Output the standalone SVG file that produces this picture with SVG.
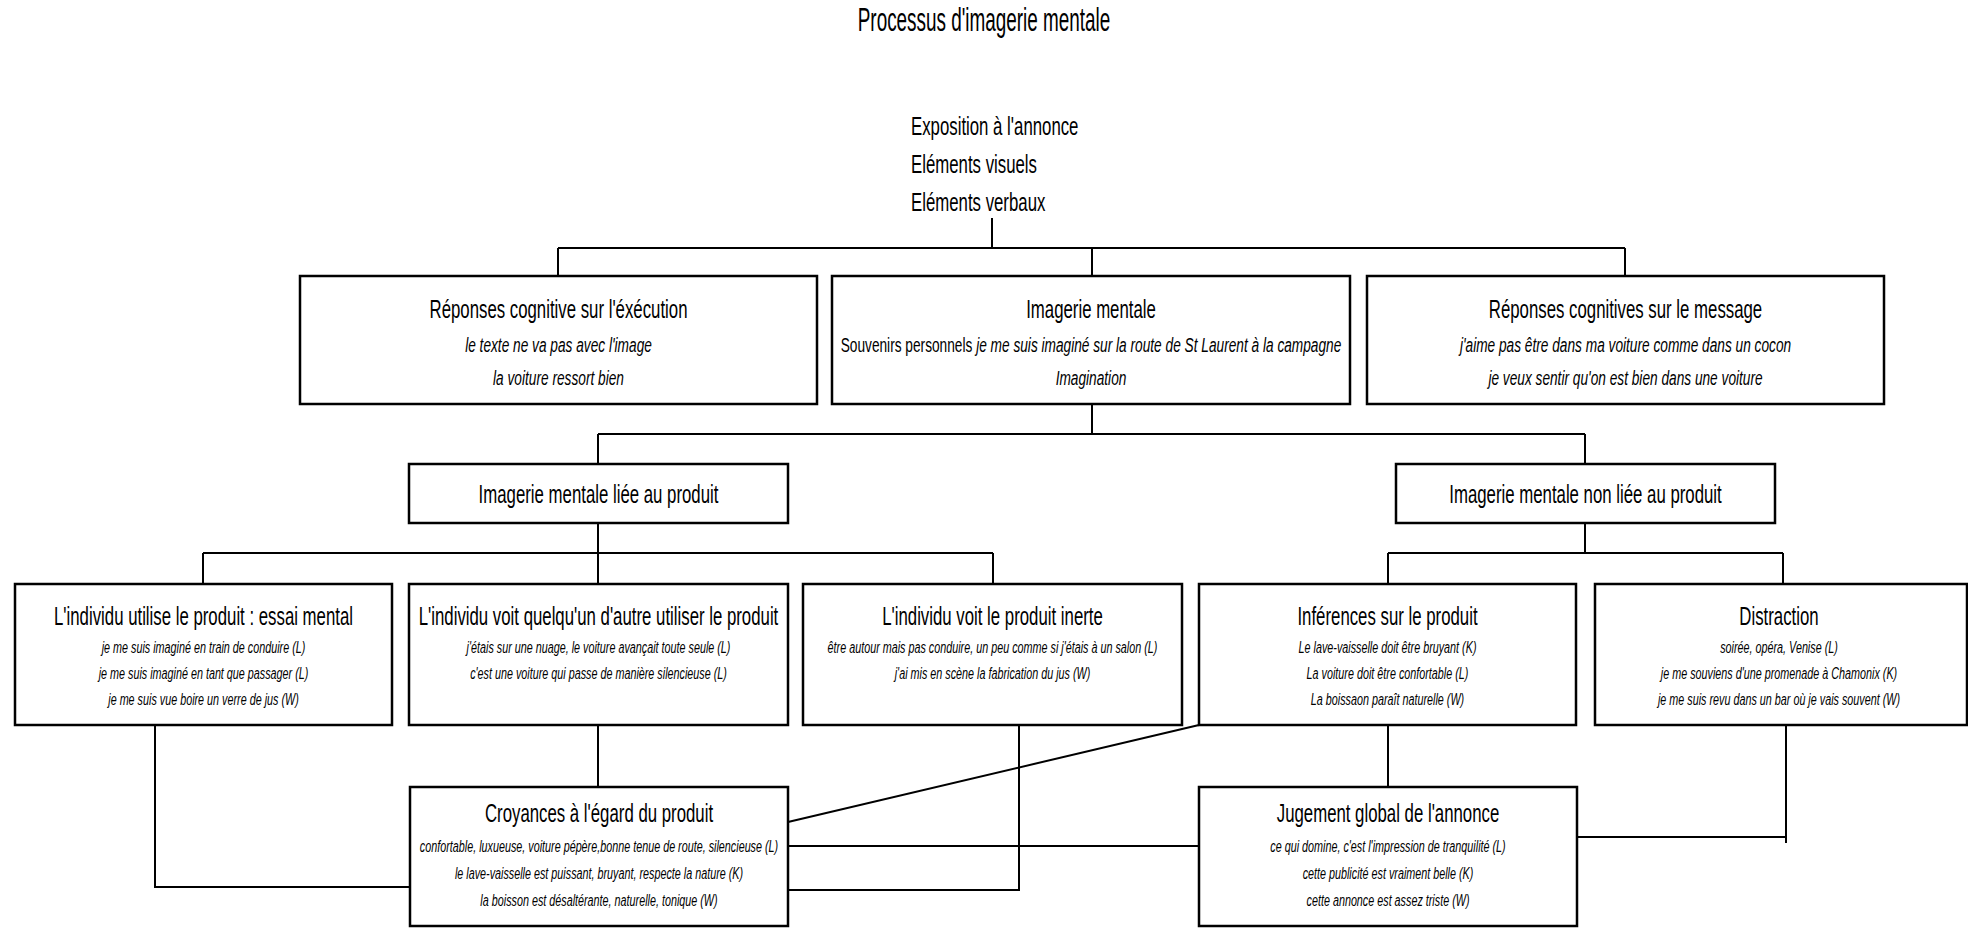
<svg xmlns="http://www.w3.org/2000/svg" width="1968" height="928" viewBox="0 0 1968 928">
<style>
text{font-family:"Liberation Sans",Arial,sans-serif;fill:#000}
.ttl{font-size:33px;text-anchor:middle;transform:scale(0.573,1)}
.top{font-size:26px;text-anchor:start;transform:scale(0.646,1)}
.h{font-size:26px;text-anchor:middle;transform:scale(0.646,1)}
.i1{font-size:21px;font-style:italic;text-anchor:middle;transform:scale(0.652,1)}
.i2{font-size:17px;font-style:italic;text-anchor:middle;transform:scale(0.635,1)}
.r{font-style:normal}
rect{fill:#fff;stroke:#000;stroke-width:2.5}
#connectors path{fill:none;stroke:#000;stroke-width:2}
</style>
<rect x="0" y="0" width="1968" height="928" style="stroke:none"/>
<g id="title" transform="translate(984,0)"><text class="ttl" x="0" y="31">Processus d'imagerie mentale</text></g>
<g id="exposition" transform="translate(911,0)">
<text class="top" x="0" y="135">Exposition à l'annonce</text>
<text class="top" x="0" y="173">Eléments visuels</text>
<text class="top" x="0" y="211">Eléments verbaux</text>
</g>
<g id="connectors">
<path d="M992,218V248M558,248H1625M558,248V276M1092,248V276M1625,248V276"/>
<path d="M1092,404V434M598,434H1585M598,434V464M1585,434V464"/>
<path d="M598,523V553M203,553H993M203,553V584M598,553V584M993,553V584"/>
<path d="M1585,523V553M1388,553H1783M1388,553V584M1783,553V584"/>
<path d="M155,725V887H410"/>
<path d="M598,725V787"/>
<path d="M1019,725V890H788"/>
<path d="M788,846H1199"/>
<path d="M1199,725L788,822"/>
<path d="M1388,725V787"/>
<path d="M1786,725V843M1577,837H1786"/>
</g>
<g id="rep-execution">
<rect x="300" y="276" width="517" height="128"/>
<g transform="translate(558.5,0)">
<text class="h" x="0" y="318">Réponses cognitive sur l'éxécution</text>
<text class="i1" x="0" y="352">le texte ne va pas avec l'image</text>
<text class="i1" x="0" y="385">la voiture ressort bien</text>
</g></g>
<g id="imagerie-mentale">
<rect x="832" y="276" width="518" height="128"/>
<g transform="translate(1091,0)">
<text class="h" x="0" y="318">Imagerie mentale</text>
<text class="i1" x="0" y="352"><tspan class="r">Souvenirs personnels </tspan> je me suis imaginé sur la route de St Laurent à la campagne</text>
<text class="i1" x="0" y="385">Imagination</text>
</g></g>
<g id="rep-message">
<rect x="1367" y="276" width="517" height="128"/>
<g transform="translate(1625.5,0)">
<text class="h" x="0" y="318">Réponses cognitives sur le message</text>
<text class="i1" x="0" y="352">j'aime pas être dans ma voiture comme dans un cocon</text>
<text class="i1" x="0" y="385">je veux sentir qu'on est bien dans une voiture</text>
</g></g>
<g id="liee-produit">
<rect x="409" y="464" width="379" height="59"/>
<g transform="translate(598.5,0)"><text class="h" x="0" y="503">Imagerie mentale liée au produit</text></g>
</g>
<g id="non-liee-produit">
<rect x="1396" y="464" width="379" height="59"/>
<g transform="translate(1585.5,0)"><text class="h" x="0" y="503">Imagerie mentale non liée au produit</text></g>
</g>
<g id="essai-mental">
<rect x="15" y="584" width="377" height="141"/>
<g transform="translate(203.5,0)">
<text class="h" x="0" y="625">L'individu utilise le produit : essai mental</text>
<text class="i2" x="0" y="653">je me suis imaginé en train de conduire (L)</text>
<text class="i2" x="0" y="679">je me suis imaginé en tant que passager (L)</text>
<text class="i2" x="0" y="705">je me suis vue boire un verre de jus (W)</text>
</g></g>
<g id="autre-utiliser">
<rect x="409" y="584" width="379" height="141"/>
<g transform="translate(598.5,0)">
<text class="h" x="0" y="625">L'individu voit quelqu'un d'autre utiliser le produit</text>
<text class="i2" x="0" y="653">j'étais sur une nuage, le voiture avançait toute seule (L)</text>
<text class="i2" x="0" y="679">c'est une voiture qui passe de manière silencieuse (L)</text>
</g></g>
<g id="produit-inerte">
<rect x="803" y="584" width="379" height="141"/>
<g transform="translate(992.5,0)">
<text class="h" x="0" y="625">L'individu voit le produit inerte</text>
<text class="i2" x="0" y="653">être autour mais pas conduire, un peu comme si j'étais à un salon (L)</text>
<text class="i2" x="0" y="679">j'ai mis en scène la fabrication du jus (W)</text>
</g></g>
<g id="inferences">
<rect x="1199" y="584" width="377" height="141"/>
<g transform="translate(1387.5,0)">
<text class="h" x="0" y="625">Inférences sur le produit</text>
<text class="i2" x="0" y="653">Le lave-vaisselle doit être bruyant (K)</text>
<text class="i2" x="0" y="679">La voiture doit être confortable (L)</text>
<text class="i2" x="0" y="705">La boissaon paraît naturelle (W)</text>
</g></g>
<g id="distraction">
<rect x="1595" y="584" width="372" height="141"/>
<g transform="translate(1779,0)">
<text class="h" x="0" y="625">Distraction</text>
<text class="i2" x="0" y="653">soirée, opéra, Venise (L)</text>
<text class="i2" x="0" y="679">je me souviens d'une promenade à Chamonix (K)</text>
<text class="i2" x="0" y="705">je me suis revu dans un bar où je vais souvent (W)</text>
</g></g>
<g id="croyances">
<rect x="410" y="787" width="378" height="139"/>
<g transform="translate(599,0)">
<text class="h" x="0" y="822">Croyances à l'égard du produit</text>
<text class="i2" x="0" y="852">confortable, luxueuse, voiture pépère,bonne tenue de route, silencieuse (L)</text>
<text class="i2" x="0" y="879">le lave-vaisselle est puissant, bruyant, respecte la nature (K)</text>
<text class="i2" x="0" y="906">la boisson est désaltérante, naturelle, tonique (W)</text>
</g></g>
<g id="jugement">
<rect x="1199" y="787" width="378" height="139"/>
<g transform="translate(1388,0)">
<text class="h" x="0" y="822">Jugement global de l'annonce</text>
<text class="i2" x="0" y="852">ce qui domine, c'est l'impression de tranquilité (L)</text>
<text class="i2" x="0" y="879">cette publicité est vraiment belle (K)</text>
<text class="i2" x="0" y="906">cette annonce est assez triste (W)</text>
</g></g>
</svg>
